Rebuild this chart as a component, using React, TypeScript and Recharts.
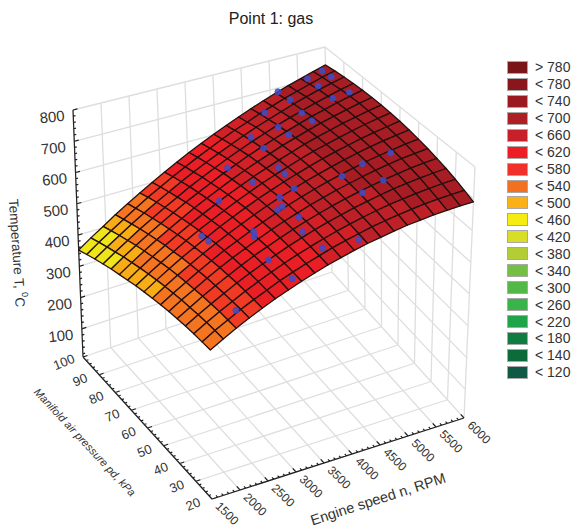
import React from 'react';
import { ScatterChart, Scatter, XAxis, YAxis, Legend } from 'recharts';

const WIDTH = 572;
const HEIGHT = 527;
const FONT = '"Liberation Sans", Arial, sans-serif';

const rpmTicks = [1500, 2000, 2500, 3000, 3500, 4000, 4500, 5000, 5500, 6000];
const pressureTicks = [100, 90, 80, 70, 60, 50, 40, 30, 20];
const tempTicks = [800, 700, 600, 500, 400, 300, 200, 100];

const rpmGrid = [1500, 1725, 1950, 2175, 2400, 2625, 2850, 3075, 3300, 3525, 3750, 3975, 4200, 4425, 4650, 4875, 5100, 5325, 5550, 5775, 6000];
const pressureGrid = [100, 95, 90, 85, 80, 75, 70, 65, 60, 55, 50, 45, 40, 35, 30, 25, 20];

// one row per pressure, one column per engine speed
const tempGrid = [
  [352, 379, 404, 430, 454, 477, 500, 522, 543, 564, 583, 602, 620, 637, 654, 670, 685, 699, 712, 725, 737],
  [364, 391, 416, 441, 465, 489, 511, 533, 554, 574, 593, 612, 630, 646, 663, 678, 693, 706, 719, 732, 743],
  [376, 402, 427, 452, 476, 499, 521, 543, 563, 583, 602, 620, 638, 655, 670, 685, 700, 713, 726, 737, 748],
  [386, 412, 437, 462, 485, 508, 530, 552, 572, 591, 610, 628, 645, 661, 677, 691, 705, 718, 730, 742, 752],
  [396, 422, 447, 471, 494, 517, 539, 559, 579, 599, 617, 635, 651, 667, 682, 696, 710, 722, 734, 745, 755],
  [404, 430, 455, 479, 502, 524, 546, 566, 586, 605, 623, 640, 656, 672, 686, 700, 713, 725, 736, 747, 756],
  [412, 438, 462, 486, 509, 531, 552, 572, 592, 610, 628, 644, 660, 675, 690, 703, 715, 727, 737, 747, 756],
  [420, 445, 469, 492, 515, 537, 557, 577, 596, 614, 632, 648, 663, 678, 692, 704, 716, 727, 738, 747, 755],
  [426, 451, 475, 498, 520, 541, 562, 581, 600, 618, 634, 650, 665, 679, 693, 705, 716, 727, 736, 745, 753],
  [431, 456, 480, 502, 524, 545, 565, 584, 602, 620, 636, 651, 666, 679, 692, 704, 715, 725, 734, 742, 749],
  [436, 460, 483, 506, 527, 548, 567, 586, 604, 621, 637, 652, 666, 679, 691, 702, 713, 722, 730, 738, 744],
  [440, 464, 486, 509, 530, 550, 569, 587, 605, 621, 636, 651, 664, 677, 688, 699, 709, 718, 726, 732, 738],
  [443, 466, 489, 510, 531, 551, 570, 587, 604, 620, 635, 649, 662, 674, 685, 695, 704, 712, 720, 726, 731],
  [445, 468, 490, 511, 532, 551, 569, 586, 603, 618, 633, 646, 658, 670, 680, 690, 699, 706, 713, 718, 723],
  [446, 469, 491, 511, 531, 550, 568, 585, 601, 615, 629, 642, 654, 665, 675, 684, 691, 698, 704, 709, 713],
  [446, 469, 490, 511, 530, 548, 566, 582, 597, 611, 625, 637, 648, 659, 668, 676, 683, 690, 695, 699, 702],
  [446, 468, 489, 509, 528, 546, 562, 578, 593, 607, 619, 631, 642, 651, 660, 668, 674, 680, 684, 688, 690],
];

// measured points
const pointRpm = [5870, 5610, 5870, 5600, 5830, 5140, 5130, 5570, 5050, 4710, 5040, 4630, 4630, 4240, 4210, 5490, 5030, 4100, 4090, 4650, 5080, 3680, 4000, 4690, 3750, 3590, 3670, 3720, 3140, 2590, 2590, 3110, 3060, 2950, 3600, 3640, 4140, 3000, 2120, 3630];
const pointPressure = [98, 98, 93, 92, 82, 100, 93, 83, 84, 94, 78, 84, 78, 87, 79, 49, 50, 67, 63, 49, 40, 68, 55, 39, 55, 51, 51, 43, 70, 62, 58, 49, 47, 35, 37, 27, 23, 23, 26, 81];
const pointTemp = [733, 719, 739, 726, 746, 687, 697, 732, 703, 669, 708, 676, 682, 646, 653, 727, 709, 656, 656, 691, 703, 624, 653, 686, 636, 625, 631, 634, 579, 536, 539, 589, 586, 577, 624, 620, 642, 575, 506, 607];

const legendLabels = ['> 780', '< 780', '< 740', '< 700', '< 660', '< 620', '< 580', '< 540', '< 500', '< 460', '< 420', '< 380', '< 340', '< 300', '< 260', '< 220', '< 180', '< 140', '< 120'];
const legendColors = ['#7b1618', '#8a151a', '#9a1a20', '#ad1e25', '#c7202a', '#ee1c25', '#f0302a', '#f37021', '#fbb116', '#f5ec14', '#d9dd26', '#b2cd36', '#75bf44', '#53b848', '#3ab34a', '#1fa44a', '#0f7d40', '#0d6a3a', '#0f5a44'];

// surface shades as they fall against the temperature axis
const surfaceLimits = [410, 445, 490, 535, 610, 650, 690];
const surfaceShades = ['#eee51a', '#f8ad17', '#f4741f', '#f03a24', '#ea1f26', '#d32027', '#bd2026', '#a81d24'];

const T_MIN = 10;
const T_MAX = 800;

// box corners on the page: floor and top, at (low rpm, high pressure) etc
const box = {
  left: [[83, 357], [73, 110]],
  back: [[332, 272], [325, 47]],
  front: [[212, 499], [209, 229]],
  right: [[464, 418], [475, 167]],
};

const pt = (rpm: number, pressure: number, temp: number) => {
  const u = (rpm - 1500) / 4500;
  const s = (100 - pressure) / 80;
  const w = (temp - T_MIN) / (T_MAX - T_MIN);
  const at = (i: number, h: number) =>
    (1 - u) * (1 - s) * box.left[h][i] + u * (1 - s) * box.back[h][i] + (1 - u) * s * box.front[h][i] + u * s * box.right[h][i];
  return {
    sx: at(0, 0) + (at(0, 1) - at(0, 0)) * w,
    sy: at(1, 0) + (at(1, 1) - at(1, 0)) * w,
  };
};

// flat lists of line ends, two by two
const gridEnds: { sx: number; sy: number }[] = [];
const axisEnds: { sx: number; sy: number }[] = [];
const seg = (list: typeof gridEnds, a: number[], b: number[]) => {
  list.push(pt(a[0], a[1], a[2]), pt(b[0], b[1], b[2]));
};

rpmTicks.forEach((n) => {
  seg(gridEnds, [n, 100, T_MIN], [n, 20, T_MIN]);
  seg(gridEnds, [n, 100, T_MIN], [n, 100, T_MAX]);
});
pressureTicks.forEach((p) => {
  seg(gridEnds, [1500, p, T_MIN], [6000, p, T_MIN]);
  seg(gridEnds, [6000, p, T_MIN], [6000, p, T_MAX]);
});
tempTicks.forEach((t) => {
  seg(gridEnds, [1500, 100, t], [6000, 100, t]);
  seg(gridEnds, [6000, 100, t], [6000, 20, t]);
});

seg(axisEnds, [1500, 100, T_MIN], [1500, 100, T_MAX]);
seg(axisEnds, [1500, 100, T_MIN], [1500, 20, T_MIN]);
seg(axisEnds, [1500, 20, T_MIN], [6000, 20, T_MIN]);
for (let t = 20; t <= 800; t += 20) {
  seg(axisEnds, [1500, 100, t], [t % 100 === 0 ? 1580 : 1540, 100, t]);
}
for (let n = 1500; n <= 6000; n += 100) {
  seg(axisEnds, [n, 20, T_MIN], [n, n % 500 === 0 ? 22 : 21, T_MIN]);
}
for (let p = 20; p <= 100; p += 2) {
  seg(axisEnds, [1500, p, T_MIN], [p % 10 === 0 ? 1580 : 1540, p, T_MIN]);
}

// surface cells, far corner first so nearer cells paint over
const cellCorners: { sx: number; sy: number }[] = [];
const cellFills: string[] = [];
for (let j = rpmGrid.length - 2; j >= 0; j--) {
  for (let k = 0; k < pressureGrid.length - 1; k++) {
    const t00 = tempGrid[k][j];
    const t10 = tempGrid[k][j + 1];
    const t11 = tempGrid[k + 1][j + 1];
    const t01 = tempGrid[k + 1][j];
    cellCorners.push(
      pt(rpmGrid[j], pressureGrid[k], t00),
      pt(rpmGrid[j + 1], pressureGrid[k], t10),
      pt(rpmGrid[j + 1], pressureGrid[k + 1], t11),
      pt(rpmGrid[j], pressureGrid[k + 1], t01),
    );
    const mean = (t00 + t10 + t11 + t01) / 4;
    const band = surfaceLimits.findIndex((lim) => mean < lim);
    cellFills.push(surfaceShades[band === -1 ? surfaceShades.length - 1 : band]);
  }
}

const measured = pointRpm.map((n, i) => pt(n, pointPressure[i], pointTemp[i]));

const rpmLabels = rpmTicks.map((n) => ({ ...pt(n, 20, T_MIN), label: String(n) }));
const pressureLabels = pressureTicks.map((p) => ({ ...pt(1500, p, T_MIN), label: String(p) }));
const tempLabels = tempTicks.map((t) => ({ ...pt(1500, 100, t), label: String(t) }));

const NoPoint = () => <g />;

const BlueDot = (props: any) => (
  <circle cx={props.cx} cy={props.cy} r={3} fill="#3f4dc4" fillOpacity={0.85} stroke="#3a48c0" strokeWidth={0.8} />
);

const drawSegments = (color: string, width: number) => (props: any) => {
  const pts = props.points;
  let d = '';
  for (let i = 0; i + 1 < pts.length; i += 2) {
    d += `M${pts[i].x},${pts[i].y}L${pts[i + 1].x},${pts[i + 1].y}`;
  }
  return <path d={d} stroke={color} strokeWidth={width} fill="none" />;
};

const drawCells = (props: any) => {
  const pts = props.points;
  return (
    <g>
      {cellFills.map((fill, i) => {
        const c = pts.slice(i * 4, i * 4 + 4).map((p: any) => `${p.x},${p.y}`).join(' ');
        return <polygon key={i} points={c} fill={fill} stroke="#241010" strokeWidth={1.3} strokeLinejoin="round" />;
      })}
    </g>
  );
};

const tickText = (dx: number, dy: number, angle: number, size: number) => (props: any) => {
  const x = props.cx + dx;
  const y = props.cy + dy;
  return (
    <text x={x} y={y} transform={`rotate(${angle} ${x} ${y})`} textAnchor="middle" dominantBaseline="central" fontFamily={FONT} fontSize={size} fill="#333">
      {props.payload.label}
    </text>
  );
};

const LegendBox = () => (
  <div style={{ position: 'absolute', left: 507, top: 59, fontFamily: FONT }}>
    {legendLabels.map((label, i) => (
      <div key={label} style={{ height: 16.94, display: 'flex', alignItems: 'center', whiteSpace: 'nowrap' }}>
        <span style={{ width: 21, height: 13, background: legendColors[i], border: '1px solid #a8a8a8', boxSizing: 'border-box', display: 'inline-block' }} />
        <span style={{ marginLeft: 7, fontSize: 14, color: '#333' }}>{label}</span>
      </div>
    ))}
  </div>
);

const App = () => (
  <div style={{ position: 'absolute', left: 0, top: 0, width: WIDTH, height: HEIGHT, background: '#fff' }}>
    <ScatterChart width={WIDTH} height={HEIGHT} margin={{ top: 0, right: 0, bottom: 0, left: 0 }}>
      <XAxis type="number" dataKey="sx" domain={[0, WIDTH]} hide />
      <YAxis type="number" dataKey="sy" domain={[0, HEIGHT]} reversed hide />
      <Legend layout="vertical" align="center" verticalAlign="top" content={LegendBox} wrapperStyle={{ left: 0, top: 0, width: 0, height: 0 }} />
      <Scatter data={gridEnds} line={drawSegments('#dedede', 1.3)} shape={NoPoint} isAnimationActive={false} />
      <Scatter data={axisEnds} line={drawSegments('#222', 1.2)} shape={NoPoint} isAnimationActive={false} />
      <Scatter data={cellCorners} line={drawCells} shape={NoPoint} isAnimationActive={false} />
      <Scatter data={measured} shape={BlueDot} isAnimationActive={false} />
      <Scatter data={rpmLabels} shape={tickText(15, 14.5, 45, 12)} isAnimationActive={false} />
      <Scatter data={pressureLabels} shape={tickText(-19, 5, -22, 13)} isAnimationActive={false} />
      <Scatter data={tempLabels} shape={tickText(-21, 6.5, -6, 15)} isAnimationActive={false} />
      <text x={271} y={24} textAnchor="middle" fontFamily={FONT} fontSize={16} fill="#222">Point 1: gas</text>
      <text x={17} y={253} transform="rotate(86 17 253)" textAnchor="middle" dominantBaseline="central" fontFamily={FONT} fontSize={13.5} fill="#333">
        Temperature T, <tspan dy={-5} fontSize={9}>0</tspan><tspan dy={5}>C</tspan>
      </text>
      <text x={85} y={442} transform="rotate(47 85 442)" textAnchor="middle" dominantBaseline="central" fontFamily={FONT} fontStyle="italic" fontSize={11} fill="#333">
        Manifold air pressure pd, kPa
      </text>
      <text x={378} y={499} transform="rotate(-18 378 499)" textAnchor="middle" dominantBaseline="central" fontFamily={FONT} fontSize={14.5} fill="#333">
        Engine speed n, RPM
      </text>
    </ScatterChart>
  </div>
);

export default App;
